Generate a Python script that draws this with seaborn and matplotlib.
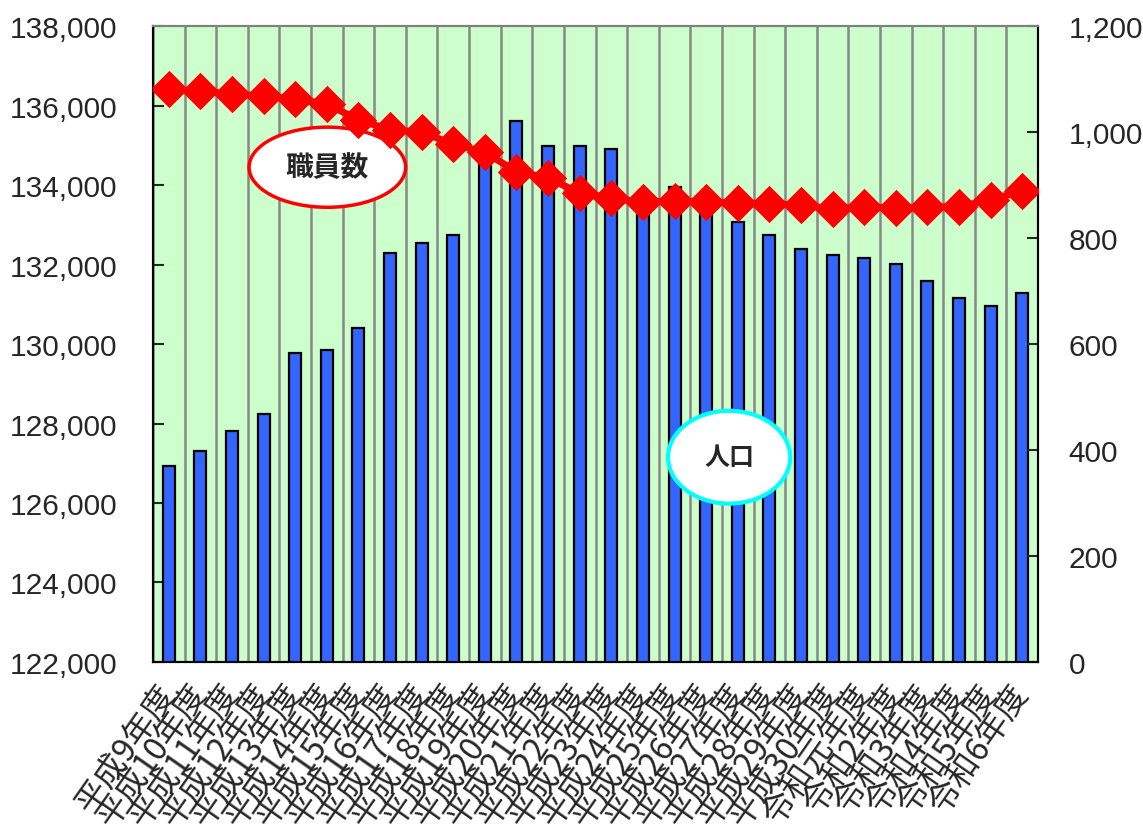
#!/usr/bin/env python3

import seaborn as sns
import pandas as pd
import numpy as np
import matplotlib.pyplot as plt
from matplotlib.patches import Ellipse
from matplotlib.ticker import FuncFormatter

years = ['平成9年度', '平成10年度', '平成11年度', '平成12年度', '平成13年度', '平成14年度',
         '平成15年度', '平成16年度', '平成17年度', '平成18年度', '平成19年度', '平成20年度',
         '平成21年度', '平成22年度', '平成23年度', '平成24年度', '平成25年度', '平成26年度',
         '平成27年度', '平成28年度', '平成29年度', '平成30年度', '令和元年度', '令和2年度',
         '令和3年度', '令和4年度', '令和5年度', '令和6年度']

# 人口 (left axis)
population = [126930, 127310, 127810, 128240, 129770, 129850, 130400, 132290, 132540, 132740,
              134600, 135600, 134980, 134980, 134900, 133700, 133950, 133500, 133070, 132740,
              132390, 132240, 132160, 132010, 131580, 131160, 130960, 131280]

# 職員数 (right axis)
staff = [1081, 1077, 1072, 1068, 1062, 1053, 1023, 1004, 1000, 977, 962, 925, 913, 885,
         875, 868, 870, 868, 866, 865, 862, 855, 859, 856, 858, 859, 872, 889]

left_ticks = [122000, 124000, 126000, 128000, 130000, 132000, 134000, 136000, 138000]
right_ticks = [0, 200, 400, 600, 800, 1000, 1200]

sns.set_style('white')
plt.rcParams['font.family'] = ['Noto Sans CJK JP', 'DejaVu Sans']

num_font = ['Liberation Sans', 'DejaVu Sans']

fig = plt.figure(figsize=(11.43, 8.37), dpi=100)
ax = fig.add_axes([0.1339, 0.2079, 0.9081 - 0.1339, 0.9677 - 0.2079])
ax.set_facecolor('#CCFFCC')

df = pd.DataFrame({'year': years, 'population': population, 'staff': staff})

sns.barplot(data=df, x='year', y='population', color='#3366FF', saturation=1,
            width=0.38, edgecolor='black', linewidth=1.6, ax=ax, zorder=3)
ax.set_ylim(122000, 138000)
ax.set_yticks(left_ticks)
ax.yaxis.set_major_formatter(FuncFormatter(lambda v, p: f'{int(v):,}'))

ax2 = ax.twinx()
sns.pointplot(data=df, x='year', y='staff', color='red', marker='D', markersize=15,
              linewidth=5, errorbar=None, ax=ax2, zorder=4)
ax2.set_ylim(0, 1200)
ax2.set_yticks(right_ticks)
ax2.yaxis.set_major_formatter(FuncFormatter(lambda v, p: f'{int(v):,}'))

ax.set_xlim(-0.5, len(years) - 0.5)
ax.set_xticks(range(len(years)))
ax.set_xticklabels(years, rotation=55, ha='right', va='center', rotation_mode='anchor',
                   fontsize=23.5)
ax.set_xticks(np.arange(-0.5, len(years), 1), minor=True)
ax.tick_params(axis='x', which='major', length=0, pad=18)
ax.tick_params(axis='x', which='minor', length=6, direction='in', color='black', width=1.5)
ax.grid(which='minor', axis='x', color='#888888', linewidth=1.8)
ax.grid(which='major', axis='y', visible=False)
ax.set_axisbelow(True)

ax.tick_params(axis='y', direction='in', length=8, width=1.5, pad=26, labelsize=21.5)
ax2.tick_params(axis='y', direction='in', length=8, width=1.5, pad=22, labelsize=21.5)
for lab in ax.get_yticklabels() + ax2.get_yticklabels():
    lab.set_family(num_font)

for a in (ax, ax2):
    a.set_xlabel('')
    a.set_ylabel('')
    for side in ['left', 'right', 'bottom']:
        a.spines[side].set_color('black')
        a.spines[side].set_linewidth(1.5)
    a.spines['top'].set_color('#808080')
    a.spines['top'].set_linewidth(1.5)

# labels in ellipses
ax2.add_patch(Ellipse((0.197, 0.778), 0.177, 0.126, transform=ax2.transAxes,
                      facecolor='white', edgecolor='red', linewidth=2.5, zorder=1))
ax2.text(0.197, 0.778, '職員数', transform=ax2.transAxes, ha='center', va='center',
         fontsize=20, fontweight='bold', zorder=2)
ax2.add_patch(Ellipse((0.651, 0.322), 0.138, 0.146, transform=ax2.transAxes,
                      facecolor='white', edgecolor='#00FFFF', linewidth=3, zorder=1))
ax2.text(0.651, 0.322, '人口', transform=ax2.transAxes, ha='center', va='center',
         fontsize=18, fontweight='bold', zorder=2)

plt.savefig('out.png')
